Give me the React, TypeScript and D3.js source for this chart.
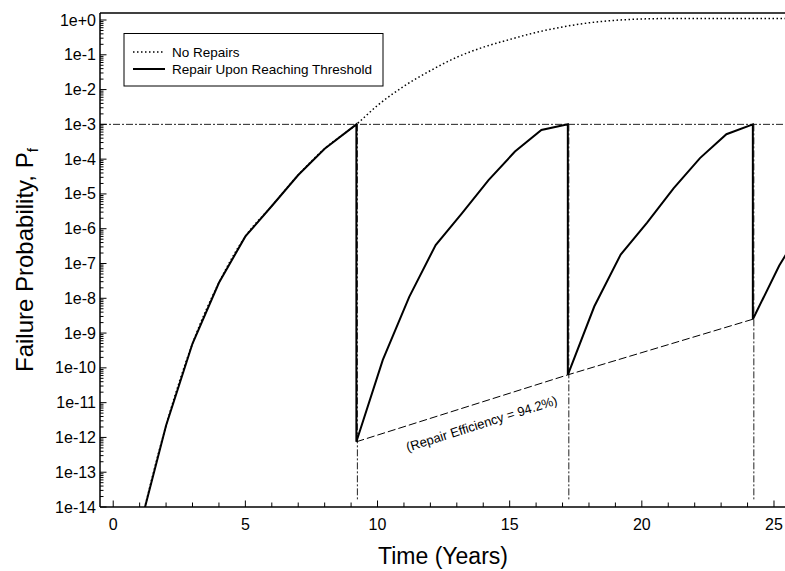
import React from "react";
import * as d3 from "d3";

// ---- data ----
const firstCycleYears = [1, 2, 3, 4, 5, 6, 7, 8, 9.2];
const firstCycleP = [2.5e-15, 2.2e-12, 5e-10, 2.8e-8, 6e-7, 4.5e-6, 3.5e-5, 2e-4, 1e-3];

const noRepairYears = [10, 11, 12, 13, 14, 15, 16, 17, 18, 19, 20, 21, 22, 23, 24, 25, 25.6];
const noRepairP = [3.5e-3, 1.25e-2, 3.5e-2, 8.5e-2, 0.165, 0.275, 0.44, 0.63, 0.83, 0.98, 1.07, 1.1, 1.1, 1.1, 1.1, 1.1, 1.1];

const repairYears = [
  9.2, 10.2, 11.2, 12.2, 13.2, 14.2, 15.2, 16.2, 17.2,
  17.2, 18.2, 19.2, 20.2, 21.2, 22.2, 23.2, 24.2,
  24.2, 25.2, 26.2,
];
const repairP = [
  7.5e-13, 1.7e-10, 1.1e-8, 3.4e-7, 2.8e-6, 2.5e-5, 1.65e-4, 6.9e-4, 1e-3,
  6.3e-11, 5.8e-9, 1.8e-7, 1.5e-6, 1.45e-5, 1.07e-4, 5.2e-4, 1e-3,
  2.5e-9, 8.7e-8, 1.6e-6,
];

const repairTimes = [9.2, 17.2, 24.2];
const postRepairP = [7.5e-13, 6.3e-11, 2.5e-9];
const thresholdP = 1e-3;
const guideBottomP = 1.6e-14;

const xMajorTicks = [0, 5, 10, 15, 20, 25];
const xMinorTicks = d3.range(0, 26, 1);
const yExponents = d3.range(0, -15, -1);

const legendLabels = ["No Repairs", "Repair Upon Reaching Threshold"];
const annotationText = "(Repair Efficiency = 94.2%)";

// ---- layout ----
const W = 785;
const H = 571;
const left = 100;
const right = 787.2;
const top = 13;
const bottom = 507;

export default function App() {
  const x = d3.scaleLinear().domain([-0.5, 25.5]).range([left, right]);
  const y = d3.scaleLog().domain([1e-14, 1]).range([bottom, 20]);

  const line = d3
    .line<[number, number]>()
    .x((d) => x(d[0]))
    .y((d) => y(d[1]));
  const smooth = d3
    .line<[number, number]>()
    .x((d) => x(d[0]))
    .y((d) => y(d[1]))
    .curve(d3.curveMonotoneX);

  const first: [number, number][] = firstCycleYears.map((t, i) => [t, firstCycleP[i]]);
  const noRep: [number, number][] = first.concat(noRepairYears.map((t, i) => [t, noRepairP[i]] as [number, number]));
  const rep: [number, number][] = first.concat(repairYears.map((t, i) => [t, repairP[i]] as [number, number]));
  const eff: [number, number][] = repairTimes.map((t, i) => [t, postRepairP[i]]);

  const yMinor: number[] = [];
  yExponents.forEach((e) => {
    if (e === 0) return;
    for (let k = 2; k <= 9; k++) yMinor.push(k * Math.pow(10, e));
  });

  const font = "Arial, 'Liberation Sans', Helvetica, sans-serif";
  const dashDot = "7,2,2,2";

  return (
    <svg
      width={W}
      height={H}
      style={{ position: "absolute", left: 0, top: 0, background: "#fff" }}
      fontFamily={font}
    >
      <defs>
        <clipPath id="plot">
          <rect x={left} y={top} width={right - left} height={bottom - top} />
        </clipPath>
      </defs>
      <rect x={0} y={0} width={W} height={H} fill="#fff" />

      <g clipPath="url(#plot)">
        {/* threshold line */}
        <line x1={left} x2={right} y1={y(thresholdP)} y2={y(thresholdP)} stroke="#222" strokeWidth={1} strokeDasharray={dashDot} />
        {/* repair verticals */}
        {repairTimes.map((t) => (
          <line key={t} x1={x(t) + 1} x2={x(t) + 1} y1={y(thresholdP)} y2={y(guideBottomP)} stroke="#222" strokeWidth={1} strokeDasharray={dashDot} />
        ))}
        {/* efficiency dashed line */}
        <path d={line(eff) || ""} fill="none" stroke="#000" strokeWidth={1} strokeDasharray="8,3" />
        {/* no repairs */}
        <path d={smooth(noRep) || ""} fill="none" stroke="#000" strokeWidth={1.5} strokeDasharray="1.5,2.5" />
        {/* repair */}
        <path d={line(rep) || ""} fill="none" stroke="#000" strokeWidth={2} strokeLinejoin="miter" />
      </g>

      {/* axes frame */}
      <line x1={left} x2={W} y1={top} y2={top} stroke="#000" strokeWidth={1.5} />
      <line x1={left} x2={left} y1={top} y2={bottom} stroke="#000" strokeWidth={1.5} />
      <line x1={left} x2={W} y1={bottom} y2={bottom} stroke="#000" strokeWidth={1.5} />

      {/* x ticks */}
      {xMinorTicks.map((t) => (
        <line key={"xm" + t} x1={x(t)} x2={x(t)} y1={bottom} y2={bottom - (t % 5 === 0 ? 6.5 : 4.5)} stroke="#000" strokeWidth={1} />
      ))}
      {xMajorTicks.map((t) => (
        <text key={"xl" + t} x={x(t)} y={530} fontSize={16} textAnchor="middle" fill="#000">
          {t}
        </text>
      ))}

      {/* y ticks */}
      {yMinor.map((v, i) => (
        <line key={"ym" + i} x1={left} x2={left + 3.5} y1={y(v)} y2={y(v)} stroke="#000" strokeWidth={1} />
      ))}
      {yExponents.map((e) => (
        <g key={"y" + e}>
          <line x1={left} x2={left + 6.5} y1={y(Math.pow(10, e))} y2={y(Math.pow(10, e))} stroke="#000" strokeWidth={1} />
          <text x={96} y={y(Math.pow(10, e)) + 5.5} fontSize={16} textAnchor="end" fill="#000">
            {e >= 0 ? `1e+${e}` : `1e${e}`}
          </text>
        </g>
      ))}

      {/* axis titles */}
      <text x={443} y={564} fontSize={23} textAnchor="middle" fill="#000">
        Time (Years)
      </text>
      <text transform="translate(33,372) rotate(-90)" fontSize={24} textAnchor="start" fill="#000">
        Failure Probability, P
        <tspan fontSize={15} dy={5}>f</tspan>
      </text>

      {/* legend */}
      <rect x={124} y={33.5} width={259} height={52.5} fill="#fff" stroke="#000" strokeWidth={1} />
      <line x1={133} x2={163} y1={52} y2={52} stroke="#000" strokeWidth={1.5} strokeDasharray="1.5,2.5" />
      <line x1={133} x2={165} y1={69} y2={69} stroke="#000" strokeWidth={2} />
      <text x={172} y={56.5} fontSize={13.5} fill="#000">
        {legendLabels[0]}
      </text>
      <text x={172} y={73.5} fontSize={13.5} fill="#000">
        {legendLabels[1]}
      </text>

      {/* annotation */}
      <text transform="translate(483,428) rotate(-17.5)" fontSize={13} textAnchor="middle" fill="#000">
        {annotationText}
      </text>
    </svg>
  );
}
